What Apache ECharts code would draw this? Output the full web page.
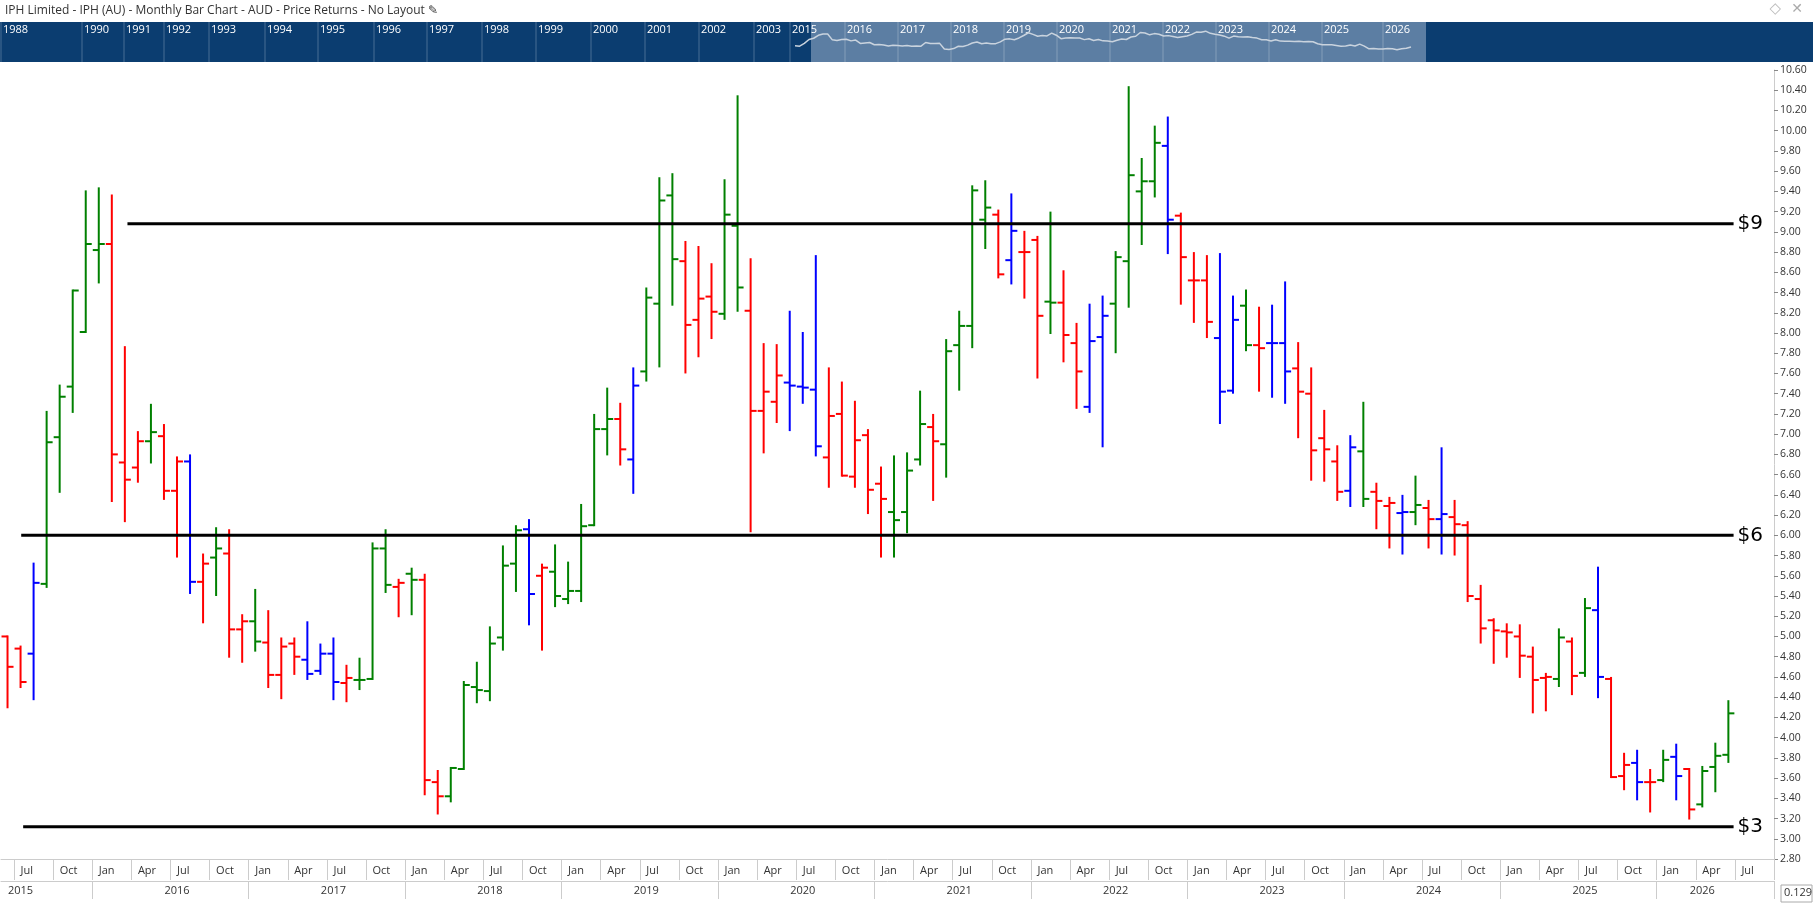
<!DOCTYPE html>
<html><head><meta charset="utf-8">
<script src="https://cdn.jsdelivr.net/npm/echarts@6/dist/echarts.min.js"></script>
<style>html,body{margin:0;padding:0;background:#fff}#c{width:1813px;height:903px}</style>
</head><body><div id="c"></div>
<script>
// Monthly bars Jun 2015 .. Jun 2026 (OHLC) + 3 empty future months
const months = [];
const monthNames = ['Jan','Feb','Mar','Apr','May','Jun','Jul','Aug','Sep','Oct','Nov','Dec'];
for (let y = 2015, m = 5; !(y === 2026 && m === 9); ) { months.push(monthNames[m] + ' ' + y); m++; if (m === 12) { m = 0; y++; } }

const open  = [5.00,4.88,4.83,5.52,6.97,7.47,8.01,
 8.82,8.88,6.72,6.67,6.93,6.98,6.44,6.73,5.54,5.78,5.82,5.07,
 5.15,4.94,4.62,4.93,4.77,4.66,4.83,4.54,4.57,4.58,5.87,5.49,
 5.62,5.56,3.56,3.42,3.69,4.50,4.46,4.99,5.72,6.06,5.60,5.64,
 5.37,5.45,6.10,7.05,7.15,6.75,7.62,8.29,9.36,8.71,8.13,8.36,
 8.19,9.06,8.22,7.23,7.32,7.51,7.47,7.44,6.77,7.20,6.58,6.99,
 6.51,6.23,6.23,6.75,7.07,6.90,7.88,8.07,9.12,9.17,8.72,8.80,
 8.92,8.31,8.30,7.90,7.27,7.96,8.29,8.71,9.40,9.50,9.85,9.16,
 8.52,8.52,7.95,7.43,8.27,7.88,7.90,7.90,7.65,7.40,6.96,6.73,
 6.44,6.83,6.43,6.29,6.22,6.23,6.27,6.16,6.18,6.10,5.37,5.16,
 5.05,5.00,4.80,4.59,4.58,4.95,4.64,5.26,4.58,3.62,3.75,3.56,
 3.58,3.81,3.69,3.34,3.71,3.83];
const high  = [5.00,4.90,5.72,7.22,7.48,8.42,9.40,
 9.43,9.36,7.86,7.02,7.29,7.09,6.77,6.79,5.81,6.07,6.05,5.21,
 5.46,5.25,4.98,4.98,5.14,4.92,4.98,4.71,4.78,5.92,6.05,5.56,
 5.67,5.61,3.67,3.70,4.55,4.74,5.09,5.89,6.09,6.15,5.71,5.90,
 5.73,6.30,7.19,7.45,7.30,7.65,8.44,9.53,9.57,8.90,8.85,8.68,
 9.51,10.34,8.73,7.89,7.88,8.21,8.00,8.76,7.65,7.51,7.32,7.04,
 6.67,6.78,6.81,7.42,7.19,7.93,8.21,9.45,9.50,9.21,9.37,9.00,
 8.95,9.19,8.61,8.09,8.28,8.36,8.80,10.43,9.72,10.04,10.13,9.18,
 8.79,8.76,8.78,8.36,8.42,8.25,8.27,8.50,7.90,7.65,7.23,6.88,
 6.98,7.31,6.51,6.37,6.39,6.58,6.34,6.86,6.34,6.13,5.50,5.17,
 5.12,5.11,4.89,4.63,5.07,4.98,5.37,5.68,4.59,3.84,3.87,3.68,
 3.87,3.93,3.69,3.71,3.94,4.36];
const low   = [4.30,4.50,4.38,5.49,6.43,7.22,8.01,
 8.50,6.34,6.14,6.53,6.72,6.36,5.79,5.43,5.14,5.41,4.80,4.75,
 4.86,4.50,4.39,4.63,4.58,4.63,4.38,4.36,4.48,4.58,5.44,5.20,
 5.22,3.44,3.25,3.37,3.69,4.35,4.37,4.87,5.45,5.12,4.87,5.30,
 5.33,5.35,6.10,6.80,6.70,6.42,7.53,7.67,8.28,7.61,7.77,7.95,
 8.14,8.22,6.04,6.82,7.12,7.04,7.31,6.79,6.48,6.59,6.48,6.22,
 5.79,5.79,6.03,6.70,6.35,6.58,7.44,7.86,8.84,8.55,8.49,8.35,
 7.56,8.00,7.72,7.26,7.22,6.88,7.81,8.26,8.88,9.35,8.79,8.29,
 8.11,7.96,7.11,7.41,7.83,7.43,7.37,7.31,6.97,6.55,6.54,6.35,
 6.29,6.29,6.07,5.88,5.82,6.11,5.88,5.82,5.81,5.35,4.94,4.74,
 4.80,4.60,4.25,4.27,4.51,4.43,4.61,4.40,3.61,3.49,3.39,3.27,
 3.57,3.39,3.20,3.32,3.47,3.76];
const close = [4.70,4.55,5.53,6.92,7.37,8.42,8.88,
 8.88,6.80,6.55,6.93,7.02,6.44,6.73,5.54,5.72,5.87,5.07,5.15,
 4.95,4.62,4.90,4.80,4.63,4.83,4.55,4.59,4.57,5.87,5.51,5.53,
 5.56,3.58,3.42,3.70,4.52,4.47,4.93,5.70,6.05,5.42,5.68,5.40,
 5.45,6.09,7.05,7.15,6.85,7.48,8.35,9.31,8.73,8.08,8.34,8.21,
 9.17,8.45,7.23,7.42,7.58,7.48,7.46,6.88,7.18,6.59,6.94,6.45,
 6.36,6.15,6.64,7.10,6.93,7.82,8.07,9.41,9.24,8.58,9.01,8.80,
 8.17,8.30,7.98,7.62,7.92,8.17,8.75,9.56,9.50,9.88,9.12,8.75,
 8.52,8.11,7.42,8.13,7.88,7.85,7.90,7.62,7.42,6.84,6.85,6.43,
 6.87,6.36,6.34,6.32,6.23,6.30,6.16,6.21,6.11,5.40,5.08,5.06,
 5.04,4.81,4.57,4.60,4.99,4.61,5.28,4.60,3.61,3.73,3.56,3.56,
 3.78,3.62,3.29,3.67,3.82,4.24];
// bar colour codes: g = green, r = red, b = blue
const barColor = ('rrbgggg' + 'grrrgrrbrgrr' + 'grrrbbbrgggr' + 'grrggggggbrg' +
 'ggggrbgggrrr' + 'ggrrrbbbrrrr' + 'rgggrggggrbr' + 'rgrrbbggggbr' +
 'rrbbgrbbrrrr' + 'bgrrbgrbrrrr' + 'rrrrgrgbrrbr' + 'gbrggg').split('');

const levelValues = [9.08, 6.00, 3.12];
const levelLabels = ['$9', '$6', '$3'];
const levelStart  = [9.2, 1.05, 1.2];
const levelEnd    = 132.4;

const navYears = ['1988','1990','1991','1992','1993','1994','1995','1996','1997','1998','1999','2000','2001','2002','2003','2015','2016','2017','2018','2019','2020','2021','2022','2023','2024','2025','2026'];
const navYearX = [3,84,126,166,211,267,320,376,429,484,538,593,647,701,756,792,847,900,953,1006,1059,1112,1165,1218,1271,1324,1385];

const COL = {g:'#008000', r:'#ff0000', b:'#0000ff'};
const ohlc = open.map((o,i)=>[i, o, high[i], low[i], close[i]]);

const chart = echarts.init(document.getElementById('c'));
const FONT = 'Open Sans';

function monthIdx(i){ return (i + 5) % 12; }
function yearOf(i){ return 2015 + Math.floor((i + 5) / 12); }

const graphics = [
  {type:'text', left:5, top:5, style:{text:'IPH Limited - IPH (AU) - Monthly Bar Chart - AUD - Price Returns - No Layout ✎', fill:'#333', font:'12px "Open Sans"'}},
  {type:'text', right:32, top:2, style:{text:'◇', fill:'#bbb', font:'15px "DejaVu Sans"'}},
  {type:'text', right:10, top:2, style:{text:'✕', fill:'#aaa', font:'14px "DejaVu Sans"'}},
  {type:'rect', shape:{x:0,y:22,width:1813,height:40}, style:{fill:'#0b3d70'}, z:-1},
  {type:'rect', shape:{x:811,y:22,width:615,height:40}, style:{fill:'rgba(160,180,205,0.55)'}, z:-1},
  {type:'rect', shape:{x:1781,y:885,width:31,height:17}, style:{fill:'#fff', stroke:'#aaa', lineWidth:1}},
  {type:'text', left:1784, top:887, style:{text:'0.129', fill:'#333', font:'11px "Open Sans"'}}
];
navYears.forEach((t,i)=>{
  graphics.push({type:'line', shape:{x1:navYearX[i]-2,y1:22,x2:navYearX[i]-2,y2:62}, style:{stroke:'rgba(255,255,255,0.25)', lineWidth:1}});
  graphics.push({type:'text', left:navYearX[i], top:24, style:{text:t, fill:'#fff', font:'11px "Open Sans"'}});
});

chart.setOption({
  animation:false,
  textStyle:{fontFamily:FONT},
  graphic: graphics,
  grid:[
    {left:1, right:39, top:70, bottom:44},
    {left:795, width:630, top:28, height:24},
    {left:1, right:39, top:70, bottom:44}
  ],
  xAxis:[
    {type:'category', gridIndex:0, data:months, boundaryGap:true,
     axisLine:{lineStyle:{color:'#ccc'}},
     axisTick:{show:true, length:21, interval:(i)=>monthIdx(i)%3===0, lineStyle:{color:'#ccc'}},
     axisLabel:{interval:(i)=>monthIdx(i)%3===0, formatter:(v,i)=>monthNames[monthIdx(i)], align:'left', color:'#333', fontSize:11, margin:6}},
    {type:'category', gridIndex:2, data:months, boundaryGap:true, position:'bottom', offset:22,
     axisLine:{lineStyle:{color:'#ccc'}},
     axisTick:{show:true, length:18, interval:(i)=>monthIdx(i)===0, lineStyle:{color:'#ccc'}},
     axisLabel:{interval:(i)=> i===0 || (monthIdx(i)===6 && yearOf(i)<2026) || (yearOf(i)===2026 && monthIdx(i)===3),
       formatter:(v,i)=>String(yearOf(i)), color:'#333', fontSize:11, margin:4}},
    {type:'category', gridIndex:1, data:months, show:false, boundaryGap:false}
  ],
  yAxis:[
    {type:'value', gridIndex:0, position:'right', min:2.8, max:10.6, interval:0.2,
     splitLine:{show:false}, axisLine:{show:true, lineStyle:{color:'#ccc'}},
     axisTick:{show:true, length:4, lineStyle:{color:'#888'}},
     axisLabel:{formatter:(v)=>v.toFixed(2), color:'#333', fontSize:10.5, margin:6}},
    {type:'value', gridIndex:1, show:false, min:2.5, max:11},
    {type:'value', gridIndex:2, show:false, min:2.8, max:10.6}
  ],
  series:[
    {type:'custom', xAxisIndex:0, yAxisIndex:0, data:ohlc, clip:false,
     renderItem:(params, api)=>{
       const i = api.value(0);
       const pH = api.coord([i, api.value(2)]);
       const pL = api.coord([i, api.value(3)]);
       const pO = api.coord([i, api.value(1)]);
       const pC = api.coord([i, api.value(4)]);
       const c = COL[barColor[i]] || '#008000';
       const st = {stroke:c, lineWidth:2};
       return {type:'group', children:[
         {type:'line', shape:{x1:pH[0],y1:pH[1]-1,x2:pL[0],y2:pL[1]+1}, style:st},
         {type:'line', shape:{x1:pO[0]-6,y1:pO[1],x2:pO[0],y2:pO[1]}, style:st},
         {type:'line', shape:{x1:pC[0],y1:pC[1],x2:pC[0]+6,y2:pC[1]}, style:st}
       ]};
     }},
    {type:'custom', xAxisIndex:0, yAxisIndex:0, clip:false,
     data: levelValues.map((v,i)=>[levelStart[i], v, i]),
     renderItem:(params, api)=>{
       const k = api.value(2);
       const bw = api.size([1,0])[0];
       const a = api.coord([0, levelValues[k]]);
       const x1 = a[0] + levelStart[k]*bw, x2 = a[0] + levelEnd*bw;
       return {type:'group', children:[
         {type:'line', shape:{x1:x1,y1:a[1],x2:x2,y2:a[1]}, style:{stroke:'#000', lineWidth:3}},
         {type:'text', style:{text:levelLabels[k], x:x2+4, y:a[1], verticalAlign:'middle', fill:'#000', font:'20px "DejaVu Sans"'}}
       ]};
     }},
    {type:'line', xAxisIndex:2, yAxisIndex:1, data:close, showSymbol:false, lineStyle:{color:'#c9d3de', width:1.5}, silent:true}
  ]
});
</script></body></html>
